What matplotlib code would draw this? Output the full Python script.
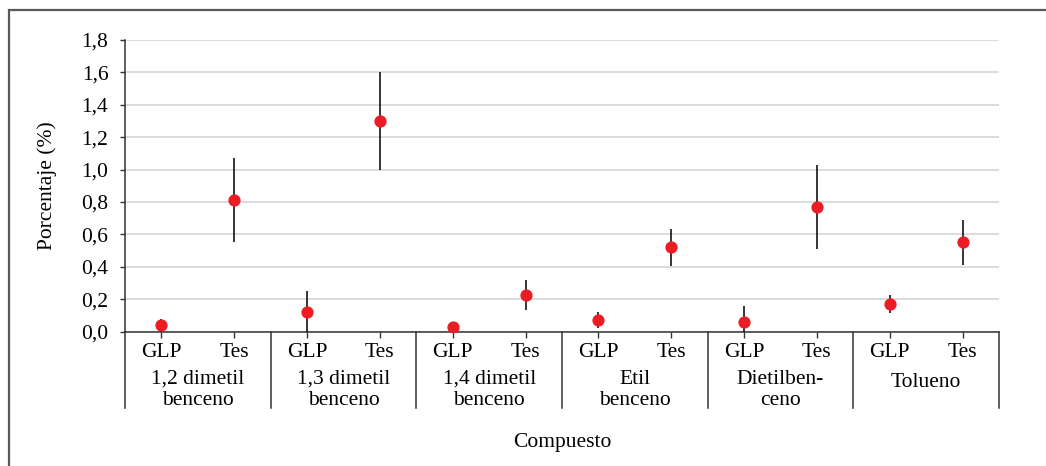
import matplotlib.pyplot as plt
import matplotlib.transforms as mtransforms
from matplotlib.patches import Rectangle

plt.rcParams['font.family'] = ['Liberation Serif', 'DejaVu Serif']

compuestos = ['1,2 dimetil\nbenceno', '1,3 dimetil\nbenceno', '1,4 dimetil\nbenceno',
              'Etil\nbenceno', 'Dietilben-\nceno', 'Tolueno']
fuentes = ['GLP', 'Tes']

glp_media = [0.04, 0.12, 0.03, 0.07, 0.06, 0.17]
glp_error = [0.04, 0.13, 0.01, 0.05, 0.10, 0.055]
tes_media = [0.81, 1.30, 0.225, 0.52, 0.77, 0.55]
tes_error = [0.26, 0.30, 0.095, 0.115, 0.26, 0.14]

yticks = [0.0, 0.2, 0.4, 0.6, 0.8, 1.0, 1.2, 1.4, 1.6, 1.8]

FS = 15.5
W, H = 1046, 466
fig = plt.figure(figsize=(W / 100, H / 100), dpi=100)
ax = fig.add_axes([125 / W, 1 - 331.5 / H, (999 - 125) / W, (331.5 - 40) / H])

n = len(compuestos)
x_glp = [2 * i + 0.5 for i in range(n)]
x_tes = [2 * i + 1.5 for i in range(n)]

red = '#ec1c24'
for xs, ys, es in [(x_glp, glp_media, glp_error), (x_tes, tes_media, tes_error)]:
    ax.errorbar(xs, ys, yerr=es, fmt='o', color=red, markersize=7.8,
                ecolor='black', elinewidth=1.1, capsize=0, zorder=3)

ax.set_xlim(0, 2 * n)
ax.set_ylim(0, 1.8)
ax.set_yticks(yticks)
ax.set_yticklabels([f'{v:.1f}'.replace('.', ',') for v in yticks], fontsize=FS)
ax.yaxis.grid(True, color='#d9d9d9', linewidth=1.3)
ax.set_axisbelow(True)

ticks = sorted(x_glp + x_tes)
ax.set_xticks(ticks)
ax.set_xticklabels([fuentes[i % 2] for i in range(len(ticks))], fontsize=FS)
ax.tick_params(axis='x', length=4, width=1, color='#333333', pad=4)
ax.tick_params(axis='y', length=3.5, width=1, color='#333333', pad=8.5)

for s in ['top', 'right']:
    ax.spines[s].set_visible(False)
for s in ['left', 'bottom']:
    ax.spines[s].set_color('#333333')
    ax.spines[s].set_linewidth(1.1)

# group labels and separators below the axis
tr = mtransforms.blended_transform_factory(ax.transData, fig.transFigure)
for k in range(n + 1):
    ax.plot([2 * k, 2 * k], [1 - 331.5 / H, 1 - 408 / H], transform=tr,
            color='#333333', linewidth=1.1, clip_on=False)
for i, name in enumerate(compuestos):
    if '\n' in name:
        ax.text(2 * i + 1, 1 - 370 / H, name, transform=tr, ha='center', va='top',
                fontsize=FS, linespacing=1.12)
    else:
        ax.text(2 * i + 1, 1 - 373 / H, name, transform=tr, ha='center', va='top',
                fontsize=FS)

fig.text(47 / W, 1 - 186 / H, 'Porcentaje (%)', rotation=90, ha='center', va='center',
         fontsize=FS)
fig.text(562 / W, 1 - 442 / H, 'Compuesto', ha='center', va='center', fontsize=FS)

# outer frame (only top and left visible in the crop)
fig.add_artist(Rectangle((9 / W, -0.1), 1.2, 1.1 - 10 / H, transform=fig.transFigure,
                         fill=False, edgecolor='#595959', linewidth=1.6))

fig.savefig('out.png', dpi=100)
